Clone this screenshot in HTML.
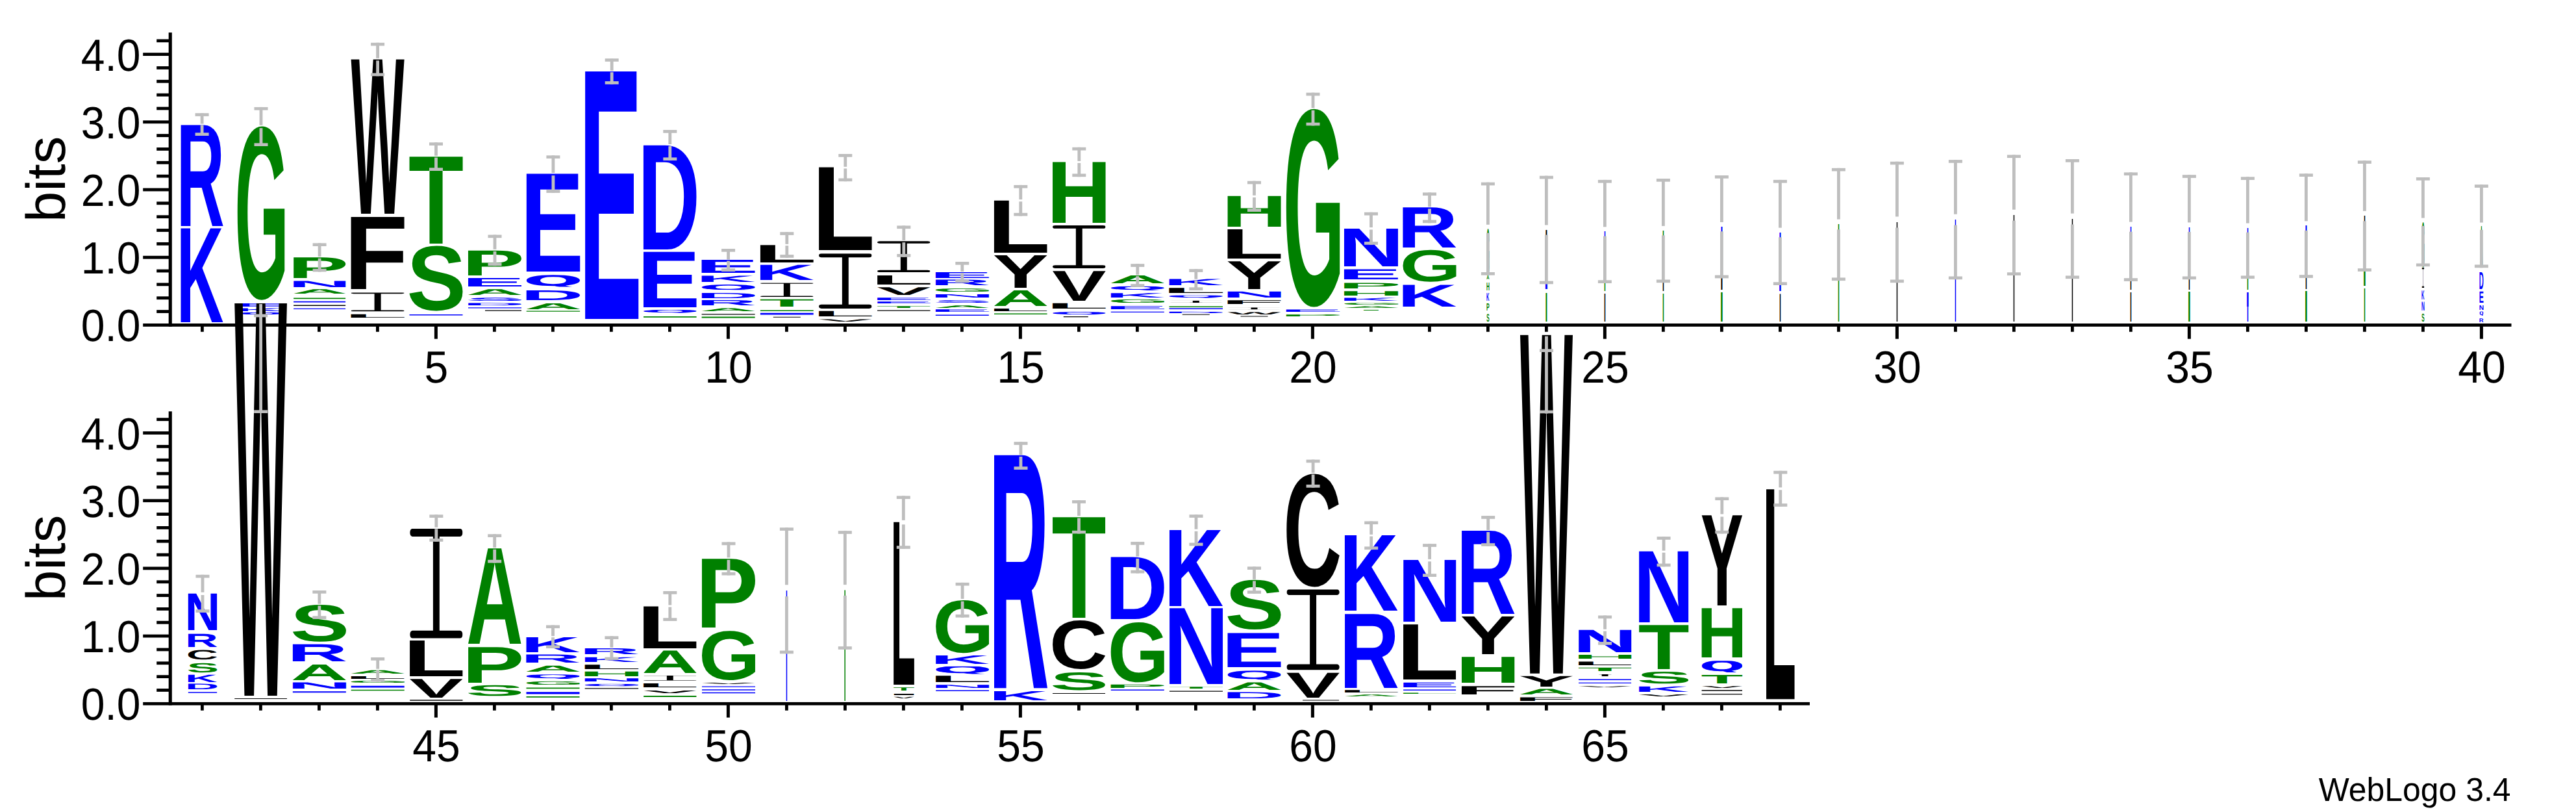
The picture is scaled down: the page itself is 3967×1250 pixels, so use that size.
<!DOCTYPE html>
<html><head><meta charset="utf-8"><title>WebLogo</title>
<style>
html,body{margin:0;padding:0;background:#fff;}
svg{display:block;}
text{text-rendering:geometricPrecision;}
.sb{font-family:"Liberation Sans",sans-serif;font-weight:bold;font-size:100px;}
.mr{font-family:"Liberation Mono",monospace;font-weight:normal;font-size:100px;}
.db{font-family:"DejaVu Sans",sans-serif;font-weight:bold;font-size:100px;}
.mb{font-family:"Liberation Mono",monospace;font-weight:bold;font-size:100px;}
.lab{font-family:"Liberation Sans",sans-serif;font-size:69.5px;fill:#000;}
.bits{font-family:"Liberation Sans",sans-serif;font-size:85px;fill:#000;}
.foot{font-family:"Liberation Sans",sans-serif;font-size:51px;fill:#000;}
</style></head><body>
<svg width="3967" height="1250" viewBox="0 0 3967 1250">
<rect x="0" y="0" width="3967" height="1250" fill="#fff"/>
<defs><clipPath id="ci" clipPathUnits="userSpaceOnUse"><rect x="9.863" y="-65.869" width="40.186" height="4.743" rx="2.009" ry="2.371"/><rect x="27.505" y="-65.869" width="4.903" height="65.869"/><rect x="9.863" y="-4.743" width="40.186" height="4.743" rx="2.009" ry="2.371"/></clipPath></defs>
<rect x="259.70" y="50.10" width="5.10" height="452.70" fill="#000"/>
<rect x="220.20" y="498.00" width="3647.30" height="4.80" fill="#000"/>
<text class="lab" transform="translate(216.6 525.4) scale(0.95 1)" text-anchor="end">0.0</text>
<rect x="241.20" y="477.16" width="19.00" height="4.80" fill="#000"/>
<rect x="241.20" y="456.32" width="19.00" height="4.80" fill="#000"/>
<rect x="241.20" y="435.48" width="19.00" height="4.80" fill="#000"/>
<rect x="241.20" y="414.64" width="19.00" height="4.80" fill="#000"/>
<rect x="220.20" y="393.80" width="40.00" height="4.80" fill="#000"/>
<text class="lab" transform="translate(216.6 421.2) scale(0.95 1)" text-anchor="end">1.0</text>
<rect x="241.20" y="372.96" width="19.00" height="4.80" fill="#000"/>
<rect x="241.20" y="352.12" width="19.00" height="4.80" fill="#000"/>
<rect x="241.20" y="331.28" width="19.00" height="4.80" fill="#000"/>
<rect x="241.20" y="310.44" width="19.00" height="4.80" fill="#000"/>
<rect x="220.20" y="289.60" width="40.00" height="4.80" fill="#000"/>
<text class="lab" transform="translate(216.6 317.0) scale(0.95 1)" text-anchor="end">2.0</text>
<rect x="241.20" y="268.76" width="19.00" height="4.80" fill="#000"/>
<rect x="241.20" y="247.92" width="19.00" height="4.80" fill="#000"/>
<rect x="241.20" y="227.08" width="19.00" height="4.80" fill="#000"/>
<rect x="241.20" y="206.24" width="19.00" height="4.80" fill="#000"/>
<rect x="220.20" y="185.40" width="40.00" height="4.80" fill="#000"/>
<text class="lab" transform="translate(216.6 212.8) scale(0.95 1)" text-anchor="end">3.0</text>
<rect x="241.20" y="164.56" width="19.00" height="4.80" fill="#000"/>
<rect x="241.20" y="143.72" width="19.00" height="4.80" fill="#000"/>
<rect x="241.20" y="122.88" width="19.00" height="4.80" fill="#000"/>
<rect x="241.20" y="102.04" width="19.00" height="4.80" fill="#000"/>
<rect x="220.20" y="81.20" width="40.00" height="4.80" fill="#000"/>
<text class="lab" transform="translate(216.6 108.6) scale(0.95 1)" text-anchor="end">4.0</text>
<rect x="241.20" y="60.36" width="19.00" height="4.80" fill="#000"/>
<rect x="309.00" y="500.40" width="4.80" height="10.40" fill="#000"/>
<rect x="399.00" y="500.40" width="4.80" height="10.40" fill="#000"/>
<rect x="489.00" y="500.40" width="4.80" height="10.40" fill="#000"/>
<rect x="579.00" y="500.40" width="4.80" height="10.40" fill="#000"/>
<rect x="668.90" y="500.40" width="5.00" height="21.30" fill="#000"/>
<text class="lab" transform="translate(671.9 588.6) scale(0.95 1)" text-anchor="middle">5</text>
<rect x="759.00" y="500.40" width="4.80" height="10.40" fill="#000"/>
<rect x="849.00" y="500.40" width="4.80" height="10.40" fill="#000"/>
<rect x="939.00" y="500.40" width="4.80" height="10.40" fill="#000"/>
<rect x="1029.00" y="500.40" width="4.80" height="10.40" fill="#000"/>
<rect x="1118.90" y="500.40" width="5.00" height="21.30" fill="#000"/>
<text class="lab" transform="translate(1121.9 588.6) scale(0.95 1)" text-anchor="middle">10</text>
<rect x="1209.00" y="500.40" width="4.80" height="10.40" fill="#000"/>
<rect x="1299.00" y="500.40" width="4.80" height="10.40" fill="#000"/>
<rect x="1389.00" y="500.40" width="4.80" height="10.40" fill="#000"/>
<rect x="1479.00" y="500.40" width="4.80" height="10.40" fill="#000"/>
<rect x="1568.90" y="500.40" width="5.00" height="21.30" fill="#000"/>
<text class="lab" transform="translate(1571.9 588.6) scale(0.95 1)" text-anchor="middle">15</text>
<rect x="1659.00" y="500.40" width="4.80" height="10.40" fill="#000"/>
<rect x="1749.00" y="500.40" width="4.80" height="10.40" fill="#000"/>
<rect x="1839.00" y="500.40" width="4.80" height="10.40" fill="#000"/>
<rect x="1929.00" y="500.40" width="4.80" height="10.40" fill="#000"/>
<rect x="2018.90" y="500.40" width="5.00" height="21.30" fill="#000"/>
<text class="lab" transform="translate(2021.9 588.6) scale(0.95 1)" text-anchor="middle">20</text>
<rect x="2109.00" y="500.40" width="4.80" height="10.40" fill="#000"/>
<rect x="2199.00" y="500.40" width="4.80" height="10.40" fill="#000"/>
<rect x="2289.00" y="500.40" width="4.80" height="10.40" fill="#000"/>
<rect x="2379.00" y="500.40" width="4.80" height="10.40" fill="#000"/>
<rect x="2468.90" y="500.40" width="5.00" height="21.30" fill="#000"/>
<text class="lab" transform="translate(2471.9 588.6) scale(0.95 1)" text-anchor="middle">25</text>
<rect x="2559.00" y="500.40" width="4.80" height="10.40" fill="#000"/>
<rect x="2649.00" y="500.40" width="4.80" height="10.40" fill="#000"/>
<rect x="2739.00" y="500.40" width="4.80" height="10.40" fill="#000"/>
<rect x="2829.00" y="500.40" width="4.80" height="10.40" fill="#000"/>
<rect x="2918.90" y="500.40" width="5.00" height="21.30" fill="#000"/>
<text class="lab" transform="translate(2921.9 588.6) scale(0.95 1)" text-anchor="middle">30</text>
<rect x="3009.00" y="500.40" width="4.80" height="10.40" fill="#000"/>
<rect x="3099.00" y="500.40" width="4.80" height="10.40" fill="#000"/>
<rect x="3189.00" y="500.40" width="4.80" height="10.40" fill="#000"/>
<rect x="3279.00" y="500.40" width="4.80" height="10.40" fill="#000"/>
<rect x="3368.90" y="500.40" width="5.00" height="21.30" fill="#000"/>
<text class="lab" transform="translate(3371.9 588.6) scale(0.95 1)" text-anchor="middle">35</text>
<rect x="3459.00" y="500.40" width="4.80" height="10.40" fill="#000"/>
<rect x="3549.00" y="500.40" width="4.80" height="10.40" fill="#000"/>
<rect x="3639.00" y="500.40" width="4.80" height="10.40" fill="#000"/>
<rect x="3729.00" y="500.40" width="4.80" height="10.40" fill="#000"/>
<rect x="3818.90" y="500.40" width="5.00" height="21.30" fill="#000"/>
<text class="lab" transform="translate(3821.9 588.6) scale(0.95 1)" text-anchor="middle">40</text>
<text class="bits" transform="translate(99.6 275.9) rotate(-90)" text-anchor="middle">bits</text>
<text class="sb" fill="#0000ff" transform="matrix(1.0240 0 0 2.2602 271.75 347.50)">R</text>
<text class="sb" fill="#0000ff" transform="matrix(1.0062 0 0 2.1003 271.87 495.50)">K</text>
<text class="sb" fill="#008000" transform="matrix(1.0744 0 0 3.7740 361.34 458.11)">G</text>
<text class="sb" fill="#0000ff" transform="matrix(1.2923 0 0 0.0727 357.11 472.00)">E</text>
<text class="sb" fill="#0000ff" transform="matrix(1.1223 0 0 0.0654 358.24 478.50)">K</text>
<svg x="365.75" y="480.50" width="72.50" height="3.50" overflow="hidden"><text class="db" fill="#0000ff" transform="matrix(0.9667 0 0 0.0429 -4.81 3.19)">Q</text></svg>
<text class="sb" fill="#008000" transform="matrix(1.4136 0 0 0.4608 442.64 428.30)">P</text>
<text class="sb" fill="#0000ff" transform="matrix(1.3608 0 0 0.1366 443.00 441.70)">N</text>
<text class="sb" fill="#008000" transform="matrix(1.1924 0 0 0.0974 449.13 452.40)">A</text>
<text class="sb" fill="#008000" transform="matrix(5.5539 0 0 0.0262 414.95 460.20)">I</text>
<text class="sb" fill="#0000ff" transform="matrix(5.5539 0 0 0.0276 414.95 465.60)">I</text>
<text class="sb" fill="#000000" transform="matrix(5.5539 0 0 0.0203 414.95 471.00)">I</text>
<text class="sb" fill="#0000ff" transform="matrix(5.5539 0 0 0.0189 414.95 476.00)">I</text>
<text class="sb" fill="#000000" transform="matrix(0.8706 0 0 3.4521 540.51 329.00)">W</text>
<text class="sb" fill="#000000" transform="matrix(1.6163 0 0 1.6134 529.79 445.00)">F</text>
<text class="mr" fill="#000000" clip-path="url(#ci)" transform="matrix(2.0405 0 0 0.4494 520.47 479.60)">I</text>
<text class="sb" fill="#000000" transform="matrix(1.5979 0 0 0.0785 529.91 488.70)">L</text>
<text class="sb" fill="#008000" transform="matrix(1.3925 0 0 1.9448 628.94 374.50)">T</text>
<text class="sb" fill="#008000" transform="matrix(1.3687 0 0 1.4124 626.56 477.22)">S</text>
<text class="sb" fill="#0000ff" transform="matrix(5.6927 0 0 0.0218 592.42 485.50)">I</text>
<text class="sb" fill="#008000" transform="matrix(1.4490 0 0 0.5552 711.31 423.50)">P</text>
<text class="sb" fill="#0000ff" transform="matrix(1.4616 0 0 0.1890 711.22 441.00)">E</text>
<text class="sb" fill="#008000" transform="matrix(1.2222 0 0 0.1279 717.96 453.80)">A</text>
<text class="sb" fill="#0000ff" transform="matrix(1.3687 0 0 0.0664 717.06 462.94)">S</text>
<text class="sb" fill="#0000ff" transform="matrix(1.3371 0 0 0.0523 712.06 470.00)">D</text>
<text class="sb" fill="#0000ff" transform="matrix(5.6927 0 0 0.0174 682.92 474.40)">I</text>
<text class="sb" fill="#000000" transform="matrix(3.8877 0 0 0.0174 720.99 478.70)">I</text>
<text class="sb" fill="#0000ff" transform="matrix(1.4687 0 0 2.1875 800.88 418.10)">E</text>
<svg x="810.70" y="423.00" width="82.40" height="18.40" overflow="hidden"><text class="db" fill="#0000ff" transform="matrix(1.0987 0 0 0.2256 -5.47 16.75)">Q</text></svg>
<text class="sb" fill="#0000ff" transform="matrix(1.3436 0 0 0.2180 801.71 461.80)">D</text>
<text class="sb" fill="#008000" transform="matrix(1.2282 0 0 0.1323 807.64 475.50)">A</text>
<text class="sb" fill="#008000" transform="matrix(5.7205 0 0 0.0189 772.43 479.80)">I</text>
<text class="sb" fill="#0000ff" transform="matrix(1.4634 0 0 5.5379 891.36 491.00)">E</text>
<text class="sb" fill="#0000ff" transform="matrix(1.3305 0 0 2.3300 982.10 383.70)">D</text>
<text class="sb" fill="#0000ff" transform="matrix(1.4545 0 0 1.2398 981.27 473.10)">E</text>
<svg x="991.00" y="477.10" width="81.60" height="4.60" overflow="hidden"><text class="db" fill="#0000ff" transform="matrix(1.0880 0 0 0.0564 -5.42 4.19)">Q</text></svg>
<text class="sb" fill="#008000" transform="matrix(5.6650 0 0 0.0247 953.10 488.70)">I</text>
<text class="sb" fill="#0000ff" transform="matrix(1.4616 0 0 0.2922 1070.82 419.80)">E</text>
<text class="sb" fill="#0000ff" transform="matrix(1.2694 0 0 0.1395 1072.11 433.60)">K</text>
<svg x="1080.60" y="437.60" width="82.00" height="8.70" overflow="hidden"><text class="db" fill="#0000ff" transform="matrix(1.0933 0 0 0.1067 -5.45 7.92)">Q</text></svg>
<text class="sb" fill="#0000ff" transform="matrix(1.3371 0 0 0.1163 1071.66 458.80)">D</text>
<text class="sb" fill="#0000ff" transform="matrix(1.2918 0 0 0.1177 1071.96 470.00)">R</text>
<text class="sb" fill="#008000" transform="matrix(1.2222 0 0 0.0640 1077.56 479.30)">A</text>
<text class="sb" fill="#000000" transform="matrix(5.6927 0 0 0.0189 1042.52 484.60)">I</text>
<text class="sb" fill="#008000" transform="matrix(5.6927 0 0 0.0262 1042.52 489.40)">I</text>
<text class="sb" fill="#000000" transform="matrix(1.5940 0 0 0.3895 1160.24 404.00)">L</text>
<text class="sb" fill="#0000ff" transform="matrix(1.2663 0 0 0.3401 1162.43 431.40)">K</text>
<text class="mr" fill="#000000" clip-path="url(#ci)" transform="matrix(2.0356 0 0 0.3310 1150.82 457.00)">I</text>
<text class="sb" fill="#008000" transform="matrix(1.3891 0 0 0.1628 1169.34 472.00)">T</text>
<text class="sb" fill="#008000" transform="matrix(5.6789 0 0 0.0218 1132.91 479.00)">I</text>
<text class="sb" fill="#0000ff" transform="matrix(5.6789 0 0 0.0378 1132.91 484.40)">I</text>
<text class="sb" fill="#000000" transform="matrix(2.9158 0 0 0.0160 1171.29 488.80)">I</text>
<text class="sb" fill="#000000" transform="matrix(1.5881 0 0 1.8547 1250.43 384.60)">L</text>
<text class="mr" fill="#000000" clip-path="url(#ci)" transform="matrix(2.0281 0 0 1.2859 1241.05 474.90)">I</text>
<text class="sb" fill="#000000" transform="matrix(1.5881 0 0 0.1192 1250.43 487.10)">L</text>
<text class="sb" fill="#000000" transform="matrix(1.2475 0 0 0.0494 1260.20 495.00)">V</text>
<text class="mr" fill="#000000" clip-path="url(#ci)" transform="matrix(2.0281 0 0 0.7272 1331.05 419.10)">I</text>
<text class="sb" fill="#000000" transform="matrix(1.5881 0 0 0.2035 1340.43 438.00)">L</text>
<text class="sb" fill="#000000" transform="matrix(1.2475 0 0 0.1715 1350.20 453.70)">V</text>
<text class="sb" fill="#0000ff" transform="matrix(1.4527 0 0 0.0552 1341.33 461.50)">E</text>
<text class="sb" fill="#0000ff" transform="matrix(1.4527 0 0 0.0407 1341.33 467.00)">E</text>
<text class="sb" fill="#008000" transform="matrix(1.3840 0 0 0.0407 1349.50 473.70)">T</text>
<text class="sb" fill="#000000" transform="matrix(5.6580 0 0 0.0174 1313.20 478.80)">I</text>
<text class="sb" fill="#0000ff" transform="matrix(1.4616 0 0 0.1294 1431.02 428.00)">E</text>
<text class="sb" fill="#0000ff" transform="matrix(1.2918 0 0 0.1235 1432.16 438.80)">R</text>
<text class="sb" fill="#008000" transform="matrix(1.2152 0 0 0.0720 1435.82 449.13)">G</text>
<text class="sb" fill="#0000ff" transform="matrix(1.3948 0 0 0.0741 1431.47 458.10)">N</text>
<text class="sb" fill="#0000ff" transform="matrix(1.3687 0 0 0.0537 1436.86 466.35)">S</text>
<text class="sb" fill="#008000" transform="matrix(1.2222 0 0 0.0538 1437.76 473.70)">A</text>
<text class="sb" fill="#0000ff" transform="matrix(1.4616 0 0 0.0552 1431.02 480.40)">E</text>
<text class="sb" fill="#0000ff" transform="matrix(5.6927 0 0 0.0203 1402.72 486.00)">I</text>
<text class="sb" fill="#000000" transform="matrix(1.5901 0 0 1.1672 1520.36 389.00)">L</text>
<text class="sb" fill="#000000" transform="matrix(1.2875 0 0 0.7268 1528.80 443.00)">Y</text>
<text class="sb" fill="#008000" transform="matrix(1.2163 0 0 0.3474 1527.97 470.90)">A</text>
<text class="sb" fill="#000000" transform="matrix(1.5901 0 0 0.0581 1520.36 478.90)">L</text>
<text class="sb" fill="#008000" transform="matrix(5.6650 0 0 0.0218 1493.10 484.00)">I</text>
<text class="sb" fill="#008000" transform="matrix(1.3863 0 0 1.3590 1611.78 342.60)">H</text>
<text class="mr" fill="#000000" clip-path="url(#ci)" transform="matrix(2.0281 0 0 1.0020 1601.05 413.00)">I</text>
<text class="sb" fill="#000000" transform="matrix(1.2475 0 0 0.6672 1620.20 463.30)">V</text>
<text class="sb" fill="#000000" transform="matrix(1.5881 0 0 0.1206 1610.43 475.30)">L</text>
<svg x="1621.05" y="479.80" width="81.50" height="4.40" overflow="hidden"><text class="db" fill="#0000ff" transform="matrix(1.0867 0 0 0.0540 -5.41 4.00)">Q</text></svg>
<text class="sb" fill="#000000" transform="matrix(2.6381 0 0 0.0174 1620.15 488.20)">I</text>
<text class="sb" fill="#008000" transform="matrix(1.2222 0 0 0.1730 1707.76 435.90)">A</text>
<svg x="1710.80" y="440.80" width="82.00" height="6.20" overflow="hidden"><text class="db" fill="#0000ff" transform="matrix(1.0933 0 0 0.0760 -5.45 5.64)">Q</text></svg>
<text class="sb" fill="#0000ff" transform="matrix(1.2694 0 0 0.0974 1702.31 457.50)">K</text>
<text class="sb" fill="#008000" transform="matrix(1.2152 0 0 0.0763 1705.82 466.33)">G</text>
<text class="sb" fill="#0000ff" transform="matrix(1.4616 0 0 0.0669 1701.02 475.50)">E</text>
<text class="sb" fill="#0000ff" transform="matrix(5.6927 0 0 0.0189 1672.72 481.00)">I</text>
<text class="sb" fill="#0000ff" transform="matrix(1.2771 0 0 0.1366 1792.01 439.20)">K</text>
<text class="sb" fill="#000000" transform="matrix(1.6076 0 0 0.1134 1789.80 450.80)">L</text>
<svg x="1800.55" y="454.40" width="82.50" height="4.40" overflow="hidden"><text class="db" fill="#0000ff" transform="matrix(1.1000 0 0 0.0540 -5.48 4.00)">Q</text></svg>
<text class="mr" fill="#000000" clip-path="url(#ci)" transform="matrix(2.0530 0 0 0.0516 1780.30 466.00)">I</text>
<text class="sb" fill="#008000" transform="matrix(5.7275 0 0 0.0218 1762.24 473.00)">I</text>
<text class="sb" fill="#0000ff" transform="matrix(5.7275 0 0 0.0203 1762.24 476.00)">I</text>
<text class="sb" fill="#0000ff" transform="matrix(1.3452 0 0 0.0320 1791.55 482.00)">D</text>
<text class="sb" fill="#000000" transform="matrix(2.9158 0 0 0.0145 1801.29 484.70)">I</text>
<text class="sb" fill="#008000" transform="matrix(1.3948 0 0 0.6861 1881.17 349.00)">H</text>
<text class="sb" fill="#000000" transform="matrix(1.5979 0 0 0.6555 1879.81 398.00)">L</text>
<text class="sb" fill="#000000" transform="matrix(1.2938 0 0 0.6221 1888.29 444.80)">Y</text>
<text class="sb" fill="#0000ff" transform="matrix(1.3948 0 0 0.1352 1881.17 458.10)">N</text>
<text class="sb" fill="#000000" transform="matrix(1.6163 0 0 0.0843 1879.69 467.70)">F</text>
<text class="mr" fill="#000000" clip-path="url(#ci)" transform="matrix(2.0405 0 0 0.0547 1870.37 476.60)">I</text>
<text class="sb" fill="#000000" transform="matrix(0.8706 0 0 0.0494 1890.41 483.80)">W</text>
<text class="sb" fill="#000000" transform="matrix(2.9158 0 0 0.0145 1890.99 487.60)">I</text>
<text class="sb" fill="#008000" transform="matrix(1.2211 0 0 4.3064 1975.79 468.39)">G</text>
<text class="sb" fill="#0000ff" transform="matrix(1.4687 0 0 0.0494 1970.98 480.40)">E</text>
<text class="sb" fill="#008000" transform="matrix(1.4560 0 0 0.0422 1971.06 486.70)">P</text>
<text class="sb" fill="#0000ff" transform="matrix(1.4118 0 0 0.8430 2060.56 409.80)">N</text>
<text class="sb" fill="#0000ff" transform="matrix(1.4794 0 0 0.2267 2060.10 429.80)">E</text>
<text class="sb" fill="#008000" transform="matrix(1.4666 0 0 0.1235 2060.19 443.70)">P</text>
<text class="sb" fill="#008000" transform="matrix(1.4118 0 0 0.0974 2060.56 454.80)">H</text>
<text class="sb" fill="#0000ff" transform="matrix(1.2848 0 0 0.0654 2061.41 463.30)">K</text>
<text class="sb" fill="#008000" transform="matrix(1.2300 0 0 0.0410 2064.96 469.26)">G</text>
<text class="sb" fill="#008000" transform="matrix(1.2371 0 0 0.0349 2066.92 474.40)">A</text>
<text class="sb" fill="#008000" transform="matrix(1.5273 0 0 0.0145 2090.28 478.00)">I</text>
<text class="sb" fill="#0000ff" transform="matrix(1.2918 0 0 0.8968 2151.86 381.20)">R</text>
<text class="sb" fill="#008000" transform="matrix(1.2152 0 0 0.6921 2155.52 432.92)">G</text>
<text class="sb" fill="#0000ff" transform="matrix(1.2694 0 0 0.4855 2152.01 472.20)">K</text>
<text class="sb" fill="#008000" transform="matrix(0.0593 0 0 1.0169 2289.16 423.01)">G</text>
<text class="sb" fill="#008000" transform="matrix(0.0596 0 0 0.0872 2289.25 430.00)">A</text>
<text class="sb" fill="#008000" transform="matrix(0.0680 0 0 0.1744 2288.94 447.00)">H</text>
<text class="sb" fill="#0000ff" transform="matrix(0.0619 0 0 0.1744 2288.99 463.00)">K</text>
<text class="sb" fill="#008000" transform="matrix(0.0707 0 0 0.1599 2288.93 478.00)">P</text>
<text class="sb" fill="#008000" transform="matrix(0.0668 0 0 0.1695 2289.21 494.83)">S</text>
<text class="sb" fill="#000000" transform="matrix(0.1388 0 0 1.2064 2379.47 437.00)">I</text>
<text class="sb" fill="#0000ff" transform="matrix(0.2083 0 0 0.1163 2378.51 445.00)">I</text>
<text class="sb" fill="#008000" transform="matrix(0.1388 0 0 0.6395 2379.47 495.00)">I</text>
<text class="sb" fill="#0000ff" transform="matrix(0.1041 0 0 1.1628 2469.95 436.00)">I</text>
<text class="sb" fill="#008000" transform="matrix(0.1041 0 0 0.1744 2469.95 448.00)">I</text>
<text class="sb" fill="#000000" transform="matrix(0.1041 0 0 0.6250 2469.95 495.00)">I</text>
<text class="sb" fill="#008000" transform="matrix(0.1041 0 0 1.1628 2559.95 435.00)">I</text>
<text class="sb" fill="#000000" transform="matrix(0.1041 0 0 0.1890 2559.95 448.00)">I</text>
<text class="sb" fill="#008000" transform="matrix(0.1041 0 0 0.6250 2559.95 495.00)">I</text>
<text class="sb" fill="#0000ff" transform="matrix(0.1388 0 0 1.1483 2649.47 428.00)">I</text>
<text class="sb" fill="#000000" transform="matrix(0.1388 0 0 0.2616 2649.47 446.00)">I</text>
<text class="sb" fill="#008000" transform="matrix(0.1736 0 0 0.6541 2648.99 495.00)">I</text>
<text class="sb" fill="#0000ff" transform="matrix(0.1388 0 0 1.1773 2739.47 439.00)">I</text>
<text class="sb" fill="#0000ff" transform="matrix(0.1736 0 0 0.1308 2738.99 448.00)">I</text>
<text class="sb" fill="#000000" transform="matrix(0.1041 0 0 0.6177 2739.95 495.00)">I</text>
<text class="sb" fill="#008000" transform="matrix(0.1041 0 0 2.1803 2829.95 495.00)">I</text>
<text class="sb" fill="#000000" transform="matrix(0.1041 0 0 2.2239 2919.95 495.00)">I</text>
<text class="sb" fill="#0000ff" transform="matrix(0.1041 0 0 2.2820 3009.95 495.00)">I</text>
<text class="sb" fill="#000000" transform="matrix(0.1041 0 0 2.3838 3099.95 495.00)">I</text>
<text class="sb" fill="#000000" transform="matrix(0.1041 0 0 2.2966 3189.95 495.00)">I</text>
<text class="sb" fill="#0000ff" transform="matrix(0.1041 0 0 1.2210 3279.95 433.00)">I</text>
<text class="sb" fill="#000000" transform="matrix(0.1041 0 0 0.1890 3279.95 446.00)">I</text>
<text class="sb" fill="#000000" transform="matrix(0.1041 0 0 0.6541 3279.95 495.00)">I</text>
<text class="sb" fill="#0000ff" transform="matrix(0.1041 0 0 1.1628 3369.95 430.00)">I</text>
<text class="sb" fill="#000000" transform="matrix(0.1041 0 0 0.2326 3369.95 446.00)">I</text>
<text class="sb" fill="#008000" transform="matrix(0.1736 0 0 0.6686 3368.99 495.00)">I</text>
<text class="sb" fill="#0000ff" transform="matrix(0.1041 0 0 1.1337 3459.95 429.00)">I</text>
<text class="sb" fill="#008000" transform="matrix(0.1041 0 0 0.2471 3459.95 446.00)">I</text>
<text class="sb" fill="#0000ff" transform="matrix(0.1736 0 0 0.3198 3458.99 472.00)">I</text>
<text class="sb" fill="#0000ff" transform="matrix(0.1041 0 0 0.3343 3459.95 495.00)">I</text>
<text class="sb" fill="#0000ff" transform="matrix(0.1388 0 0 1.1773 3549.47 428.00)">I</text>
<text class="sb" fill="#000000" transform="matrix(0.1041 0 0 0.2471 3549.95 445.00)">I</text>
<text class="sb" fill="#008000" transform="matrix(0.1736 0 0 0.6832 3548.99 495.00)">I</text>
<text class="sb" fill="#000000" transform="matrix(0.1041 0 0 1.2500 3639.95 418.00)">I</text>
<text class="sb" fill="#008000" transform="matrix(0.1736 0 0 0.3198 3638.99 440.00)">I</text>
<text class="sb" fill="#008000" transform="matrix(0.1041 0 0 0.7413 3639.95 495.00)">I</text>
<text class="sb" fill="#008000" transform="matrix(0.0593 0 0 0.9887 3729.16 411.03)">G</text>
<text class="mr" fill="#000000" clip-path="url(#ci)" transform="matrix(0.0995 0 0 0.4706 3728.42 443.00)">I</text>
<text class="sb" fill="#0000ff" transform="matrix(0.0619 0 0 0.2006 3728.99 461.30)">K</text>
<text class="sb" fill="#0000ff" transform="matrix(0.0680 0 0 0.1962 3728.94 478.30)">N</text>
<text class="sb" fill="#008000" transform="matrix(0.0668 0 0 0.1766 3729.21 494.83)">S</text>
<text class="sb" fill="#008000" transform="matrix(0.0596 0 0 0.9302 3819.25 412.00)">A</text>
<text class="sb" fill="#0000ff" transform="matrix(0.0978 0 0 0.3794 3817.75 444.80)">D</text>
<text class="sb" fill="#0000ff" transform="matrix(0.1069 0 0 0.2515 3817.68 466.00)">E</text>
<text class="sb" fill="#0000ff" transform="matrix(0.1021 0 0 0.1003 3817.72 476.70)">N</text>
<svg x="3818.40" y="479.40" width="6.00" height="6.60" overflow="hidden"><text class="db" fill="#0000ff" transform="matrix(0.0800 0 0 0.0809 -0.40 6.01)">Q</text></svg>
<text class="sb" fill="#0000ff" transform="matrix(0.0945 0 0 0.0829 3817.77 495.50)">R</text>
<rect x="300.60" y="174.20" width="21.00" height="4.70" fill="#bebebe"/>
<rect x="300.60" y="204.30" width="21.00" height="4.70" fill="#bebebe"/>
<rect x="308.70" y="174.20" width="4.80" height="16.40" fill="#bebebe"/>
<rect x="308.70" y="192.60" width="4.80" height="16.40" fill="#bebebe"/>
<rect x="391.50" y="164.90" width="21.00" height="4.70" fill="#bebebe"/>
<rect x="391.50" y="220.30" width="21.00" height="4.70" fill="#bebebe"/>
<rect x="399.60" y="164.90" width="4.80" height="27.84" fill="#bebebe"/>
<rect x="399.60" y="197.16" width="4.80" height="27.84" fill="#bebebe"/>
<rect x="481.60" y="374.30" width="21.00" height="4.70" fill="#bebebe"/>
<rect x="481.60" y="413.70" width="21.00" height="4.70" fill="#bebebe"/>
<rect x="489.70" y="374.30" width="4.80" height="20.65" fill="#bebebe"/>
<rect x="489.70" y="397.75" width="4.80" height="20.64" fill="#bebebe"/>
<rect x="571.10" y="65.80" width="21.00" height="4.70" fill="#bebebe"/>
<rect x="571.10" y="112.50" width="21.00" height="4.70" fill="#bebebe"/>
<rect x="579.20" y="65.80" width="4.80" height="23.93" fill="#bebebe"/>
<rect x="579.20" y="93.27" width="4.80" height="23.93" fill="#bebebe"/>
<rect x="661.00" y="219.30" width="21.00" height="4.70" fill="#bebebe"/>
<rect x="661.00" y="258.30" width="21.00" height="4.70" fill="#bebebe"/>
<rect x="669.10" y="219.30" width="4.80" height="20.47" fill="#bebebe"/>
<rect x="669.10" y="242.53" width="4.80" height="20.47" fill="#bebebe"/>
<rect x="751.50" y="361.50" width="21.00" height="4.70" fill="#bebebe"/>
<rect x="751.50" y="404.50" width="21.00" height="4.70" fill="#bebebe"/>
<rect x="759.60" y="361.50" width="4.80" height="22.27" fill="#bebebe"/>
<rect x="759.60" y="386.94" width="4.80" height="22.26" fill="#bebebe"/>
<rect x="841.40" y="239.30" width="21.00" height="4.70" fill="#bebebe"/>
<rect x="841.40" y="292.20" width="21.00" height="4.70" fill="#bebebe"/>
<rect x="849.50" y="239.30" width="4.80" height="26.72" fill="#bebebe"/>
<rect x="849.50" y="270.18" width="4.80" height="26.72" fill="#bebebe"/>
<rect x="931.70" y="90.10" width="21.00" height="4.70" fill="#bebebe"/>
<rect x="931.70" y="125.10" width="21.00" height="4.70" fill="#bebebe"/>
<rect x="939.80" y="90.10" width="4.80" height="18.67" fill="#bebebe"/>
<rect x="939.80" y="111.14" width="4.80" height="18.67" fill="#bebebe"/>
<rect x="1021.30" y="200.00" width="21.00" height="4.70" fill="#bebebe"/>
<rect x="1021.30" y="242.40" width="21.00" height="4.70" fill="#bebebe"/>
<rect x="1029.40" y="200.00" width="4.80" height="22.00" fill="#bebebe"/>
<rect x="1029.40" y="225.11" width="4.80" height="21.99" fill="#bebebe"/>
<rect x="1111.10" y="383.00" width="21.00" height="4.70" fill="#bebebe"/>
<rect x="1111.10" y="413.30" width="21.00" height="4.70" fill="#bebebe"/>
<rect x="1119.20" y="383.00" width="4.80" height="16.50" fill="#bebebe"/>
<rect x="1119.20" y="401.50" width="4.80" height="16.50" fill="#bebebe"/>
<rect x="1201.30" y="357.20" width="21.00" height="4.70" fill="#bebebe"/>
<rect x="1201.30" y="392.10" width="21.00" height="4.70" fill="#bebebe"/>
<rect x="1209.40" y="357.20" width="4.80" height="18.62" fill="#bebebe"/>
<rect x="1209.40" y="378.18" width="4.80" height="18.62" fill="#bebebe"/>
<rect x="1291.30" y="237.00" width="21.00" height="4.70" fill="#bebebe"/>
<rect x="1291.30" y="274.50" width="21.00" height="4.70" fill="#bebebe"/>
<rect x="1299.40" y="237.00" width="4.80" height="19.79" fill="#bebebe"/>
<rect x="1299.40" y="259.41" width="4.80" height="19.79" fill="#bebebe"/>
<rect x="1381.30" y="347.40" width="21.00" height="4.70" fill="#bebebe"/>
<rect x="1381.30" y="391.00" width="21.00" height="4.70" fill="#bebebe"/>
<rect x="1389.40" y="347.40" width="4.80" height="22.53" fill="#bebebe"/>
<rect x="1389.40" y="373.16" width="4.80" height="22.54" fill="#bebebe"/>
<rect x="1471.30" y="403.00" width="21.00" height="4.70" fill="#bebebe"/>
<rect x="1471.30" y="430.50" width="21.00" height="4.70" fill="#bebebe"/>
<rect x="1479.40" y="403.00" width="4.80" height="15.10" fill="#bebebe"/>
<rect x="1479.40" y="420.10" width="4.80" height="15.10" fill="#bebebe"/>
<rect x="1561.30" y="284.90" width="21.00" height="4.70" fill="#bebebe"/>
<rect x="1561.30" y="327.80" width="21.00" height="4.70" fill="#bebebe"/>
<rect x="1569.40" y="284.90" width="4.80" height="22.22" fill="#bebebe"/>
<rect x="1569.40" y="310.28" width="4.80" height="22.22" fill="#bebebe"/>
<rect x="1651.30" y="226.80" width="21.00" height="4.70" fill="#bebebe"/>
<rect x="1651.30" y="267.50" width="21.00" height="4.70" fill="#bebebe"/>
<rect x="1659.40" y="226.80" width="4.80" height="21.23" fill="#bebebe"/>
<rect x="1659.40" y="250.97" width="4.80" height="21.23" fill="#bebebe"/>
<rect x="1741.30" y="406.20" width="21.00" height="4.70" fill="#bebebe"/>
<rect x="1741.30" y="437.20" width="21.00" height="4.70" fill="#bebebe"/>
<rect x="1749.40" y="406.20" width="4.80" height="16.85" fill="#bebebe"/>
<rect x="1749.40" y="425.05" width="4.80" height="16.85" fill="#bebebe"/>
<rect x="1831.30" y="414.20" width="21.00" height="4.70" fill="#bebebe"/>
<rect x="1831.30" y="442.30" width="21.00" height="4.70" fill="#bebebe"/>
<rect x="1839.40" y="414.20" width="4.80" height="15.40" fill="#bebebe"/>
<rect x="1839.40" y="431.60" width="4.80" height="15.40" fill="#bebebe"/>
<rect x="1921.00" y="278.70" width="21.00" height="4.70" fill="#bebebe"/>
<rect x="1921.00" y="321.30" width="21.00" height="4.70" fill="#bebebe"/>
<rect x="1929.10" y="278.70" width="4.80" height="22.09" fill="#bebebe"/>
<rect x="1929.10" y="303.92" width="4.80" height="22.08" fill="#bebebe"/>
<rect x="2011.50" y="142.70" width="21.00" height="4.70" fill="#bebebe"/>
<rect x="2011.50" y="188.70" width="21.00" height="4.70" fill="#bebebe"/>
<rect x="2019.60" y="142.70" width="4.80" height="23.62" fill="#bebebe"/>
<rect x="2019.60" y="169.79" width="4.80" height="23.61" fill="#bebebe"/>
<rect x="2101.00" y="326.80" width="21.00" height="4.70" fill="#bebebe"/>
<rect x="2101.00" y="372.10" width="21.00" height="4.70" fill="#bebebe"/>
<rect x="2109.10" y="326.80" width="4.80" height="23.30" fill="#bebebe"/>
<rect x="2109.10" y="353.50" width="4.80" height="23.30" fill="#bebebe"/>
<rect x="2191.00" y="296.40" width="21.00" height="4.70" fill="#bebebe"/>
<rect x="2191.00" y="338.60" width="21.00" height="4.70" fill="#bebebe"/>
<rect x="2199.10" y="296.40" width="4.80" height="21.91" fill="#bebebe"/>
<rect x="2199.10" y="321.40" width="4.80" height="21.90" fill="#bebebe"/>
<rect x="2280.90" y="280.70" width="21.00" height="4.70" fill="#bebebe"/>
<rect x="2280.90" y="419.00" width="21.00" height="4.70" fill="#bebebe"/>
<rect x="2289.00" y="280.70" width="4.80" height="65.15" fill="#bebebe"/>
<rect x="2289.00" y="358.55" width="4.80" height="65.15" fill="#bebebe"/>
<rect x="2370.90" y="270.70" width="21.00" height="4.70" fill="#bebebe"/>
<rect x="2370.90" y="432.60" width="21.00" height="4.70" fill="#bebebe"/>
<rect x="2379.00" y="270.70" width="4.80" height="75.77" fill="#bebebe"/>
<rect x="2379.00" y="361.53" width="4.80" height="75.77" fill="#bebebe"/>
<rect x="2460.90" y="276.90" width="21.00" height="4.70" fill="#bebebe"/>
<rect x="2460.90" y="431.30" width="21.00" height="4.70" fill="#bebebe"/>
<rect x="2469.00" y="276.90" width="4.80" height="72.39" fill="#bebebe"/>
<rect x="2469.00" y="363.61" width="4.80" height="72.39" fill="#bebebe"/>
<rect x="2550.90" y="275.00" width="21.00" height="4.70" fill="#bebebe"/>
<rect x="2550.90" y="430.50" width="21.00" height="4.70" fill="#bebebe"/>
<rect x="2559.00" y="275.00" width="4.80" height="72.89" fill="#bebebe"/>
<rect x="2559.00" y="362.31" width="4.80" height="72.89" fill="#bebebe"/>
<rect x="2640.90" y="270.00" width="21.00" height="4.70" fill="#bebebe"/>
<rect x="2640.90" y="423.60" width="21.00" height="4.70" fill="#bebebe"/>
<rect x="2649.00" y="270.00" width="4.80" height="72.03" fill="#bebebe"/>
<rect x="2649.00" y="356.26" width="4.80" height="72.04" fill="#bebebe"/>
<rect x="2730.90" y="276.90" width="21.00" height="4.70" fill="#bebebe"/>
<rect x="2730.90" y="434.30" width="21.00" height="4.70" fill="#bebebe"/>
<rect x="2739.00" y="276.90" width="4.80" height="73.75" fill="#bebebe"/>
<rect x="2739.00" y="365.25" width="4.80" height="73.75" fill="#bebebe"/>
<rect x="2820.90" y="258.80" width="21.00" height="4.70" fill="#bebebe"/>
<rect x="2820.90" y="427.40" width="21.00" height="4.70" fill="#bebebe"/>
<rect x="2829.00" y="258.80" width="4.80" height="78.79" fill="#bebebe"/>
<rect x="2829.00" y="353.32" width="4.80" height="78.78" fill="#bebebe"/>
<rect x="2910.90" y="248.80" width="21.00" height="4.70" fill="#bebebe"/>
<rect x="2910.90" y="430.50" width="21.00" height="4.70" fill="#bebebe"/>
<rect x="2919.00" y="248.80" width="4.80" height="84.68" fill="#bebebe"/>
<rect x="2919.00" y="350.52" width="4.80" height="84.68" fill="#bebebe"/>
<rect x="3000.90" y="246.10" width="21.00" height="4.70" fill="#bebebe"/>
<rect x="3000.90" y="425.50" width="21.00" height="4.70" fill="#bebebe"/>
<rect x="3009.00" y="246.10" width="4.80" height="83.65" fill="#bebebe"/>
<rect x="3009.00" y="346.55" width="4.80" height="83.65" fill="#bebebe"/>
<rect x="3090.90" y="238.40" width="21.00" height="4.70" fill="#bebebe"/>
<rect x="3090.90" y="419.30" width="21.00" height="4.70" fill="#bebebe"/>
<rect x="3099.00" y="238.40" width="4.80" height="84.32" fill="#bebebe"/>
<rect x="3099.00" y="339.68" width="4.80" height="84.32" fill="#bebebe"/>
<rect x="3180.90" y="245.00" width="21.00" height="4.70" fill="#bebebe"/>
<rect x="3180.90" y="424.40" width="21.00" height="4.70" fill="#bebebe"/>
<rect x="3189.00" y="245.00" width="4.80" height="83.64" fill="#bebebe"/>
<rect x="3189.00" y="345.46" width="4.80" height="83.64" fill="#bebebe"/>
<rect x="3270.90" y="265.40" width="21.00" height="4.70" fill="#bebebe"/>
<rect x="3270.90" y="428.20" width="21.00" height="4.70" fill="#bebebe"/>
<rect x="3279.00" y="265.40" width="4.80" height="76.18" fill="#bebebe"/>
<rect x="3279.00" y="356.72" width="4.80" height="76.18" fill="#bebebe"/>
<rect x="3360.90" y="269.20" width="21.00" height="4.70" fill="#bebebe"/>
<rect x="3360.90" y="425.50" width="21.00" height="4.70" fill="#bebebe"/>
<rect x="3369.00" y="269.20" width="4.80" height="73.25" fill="#bebebe"/>
<rect x="3369.00" y="356.95" width="4.80" height="73.25" fill="#bebebe"/>
<rect x="3450.90" y="272.30" width="21.00" height="4.70" fill="#bebebe"/>
<rect x="3450.90" y="424.40" width="21.00" height="4.70" fill="#bebebe"/>
<rect x="3459.00" y="272.30" width="4.80" height="71.36" fill="#bebebe"/>
<rect x="3459.00" y="357.74" width="4.80" height="71.36" fill="#bebebe"/>
<rect x="3540.90" y="267.30" width="21.00" height="4.70" fill="#bebebe"/>
<rect x="3540.90" y="423.20" width="21.00" height="4.70" fill="#bebebe"/>
<rect x="3549.00" y="267.30" width="4.80" height="73.07" fill="#bebebe"/>
<rect x="3549.00" y="354.83" width="4.80" height="73.07" fill="#bebebe"/>
<rect x="3630.90" y="247.30" width="21.00" height="4.70" fill="#bebebe"/>
<rect x="3630.90" y="413.20" width="21.00" height="4.70" fill="#bebebe"/>
<rect x="3639.00" y="247.30" width="4.80" height="77.57" fill="#bebebe"/>
<rect x="3639.00" y="340.33" width="4.80" height="77.57" fill="#bebebe"/>
<rect x="3720.90" y="273.00" width="21.00" height="4.70" fill="#bebebe"/>
<rect x="3720.90" y="405.50" width="21.00" height="4.70" fill="#bebebe"/>
<rect x="3729.00" y="273.00" width="4.80" height="62.54" fill="#bebebe"/>
<rect x="3729.00" y="347.66" width="4.80" height="62.54" fill="#bebebe"/>
<rect x="3810.90" y="284.20" width="21.00" height="4.70" fill="#bebebe"/>
<rect x="3810.90" y="407.50" width="21.00" height="4.70" fill="#bebebe"/>
<rect x="3819.00" y="284.20" width="4.80" height="58.40" fill="#bebebe"/>
<rect x="3819.00" y="353.80" width="4.80" height="58.40" fill="#bebebe"/>
<rect x="259.70" y="633.30" width="5.10" height="452.40" fill="#000"/>
<rect x="220.20" y="1080.90" width="2566.80" height="4.80" fill="#000"/>
<text class="lab" transform="translate(216.6 1108.3) scale(0.95 1)" text-anchor="end">0.0</text>
<rect x="241.20" y="1060.06" width="19.00" height="4.80" fill="#000"/>
<rect x="241.20" y="1039.22" width="19.00" height="4.80" fill="#000"/>
<rect x="241.20" y="1018.38" width="19.00" height="4.80" fill="#000"/>
<rect x="241.20" y="997.54" width="19.00" height="4.80" fill="#000"/>
<rect x="220.20" y="976.70" width="40.00" height="4.80" fill="#000"/>
<text class="lab" transform="translate(216.6 1004.1) scale(0.95 1)" text-anchor="end">1.0</text>
<rect x="241.20" y="955.86" width="19.00" height="4.80" fill="#000"/>
<rect x="241.20" y="935.02" width="19.00" height="4.80" fill="#000"/>
<rect x="241.20" y="914.18" width="19.00" height="4.80" fill="#000"/>
<rect x="241.20" y="893.34" width="19.00" height="4.80" fill="#000"/>
<rect x="220.20" y="872.50" width="40.00" height="4.80" fill="#000"/>
<text class="lab" transform="translate(216.6 899.9) scale(0.95 1)" text-anchor="end">2.0</text>
<rect x="241.20" y="851.66" width="19.00" height="4.80" fill="#000"/>
<rect x="241.20" y="830.82" width="19.00" height="4.80" fill="#000"/>
<rect x="241.20" y="809.98" width="19.00" height="4.80" fill="#000"/>
<rect x="241.20" y="789.14" width="19.00" height="4.80" fill="#000"/>
<rect x="220.20" y="768.30" width="40.00" height="4.80" fill="#000"/>
<text class="lab" transform="translate(216.6 795.7) scale(0.95 1)" text-anchor="end">3.0</text>
<rect x="241.20" y="747.46" width="19.00" height="4.80" fill="#000"/>
<rect x="241.20" y="726.62" width="19.00" height="4.80" fill="#000"/>
<rect x="241.20" y="705.78" width="19.00" height="4.80" fill="#000"/>
<rect x="241.20" y="684.94" width="19.00" height="4.80" fill="#000"/>
<rect x="220.20" y="664.10" width="40.00" height="4.80" fill="#000"/>
<text class="lab" transform="translate(216.6 691.5) scale(0.95 1)" text-anchor="end">4.0</text>
<rect x="241.20" y="643.26" width="19.00" height="4.80" fill="#000"/>
<rect x="309.00" y="1083.30" width="4.80" height="10.40" fill="#000"/>
<rect x="399.00" y="1083.30" width="4.80" height="10.40" fill="#000"/>
<rect x="489.00" y="1083.30" width="4.80" height="10.40" fill="#000"/>
<rect x="579.00" y="1083.30" width="4.80" height="10.40" fill="#000"/>
<rect x="668.90" y="1083.30" width="5.00" height="21.30" fill="#000"/>
<text class="lab" transform="translate(671.9 1171.5) scale(0.95 1)" text-anchor="middle">45</text>
<rect x="759.00" y="1083.30" width="4.80" height="10.40" fill="#000"/>
<rect x="849.00" y="1083.30" width="4.80" height="10.40" fill="#000"/>
<rect x="939.00" y="1083.30" width="4.80" height="10.40" fill="#000"/>
<rect x="1029.00" y="1083.30" width="4.80" height="10.40" fill="#000"/>
<rect x="1118.90" y="1083.30" width="5.00" height="21.30" fill="#000"/>
<text class="lab" transform="translate(1121.9 1171.5) scale(0.95 1)" text-anchor="middle">50</text>
<rect x="1209.00" y="1083.30" width="4.80" height="10.40" fill="#000"/>
<rect x="1299.00" y="1083.30" width="4.80" height="10.40" fill="#000"/>
<rect x="1389.00" y="1083.30" width="4.80" height="10.40" fill="#000"/>
<rect x="1479.00" y="1083.30" width="4.80" height="10.40" fill="#000"/>
<rect x="1568.90" y="1083.30" width="5.00" height="21.30" fill="#000"/>
<text class="lab" transform="translate(1571.9 1171.5) scale(0.95 1)" text-anchor="middle">55</text>
<rect x="1659.00" y="1083.30" width="4.80" height="10.40" fill="#000"/>
<rect x="1749.00" y="1083.30" width="4.80" height="10.40" fill="#000"/>
<rect x="1839.00" y="1083.30" width="4.80" height="10.40" fill="#000"/>
<rect x="1929.00" y="1083.30" width="4.80" height="10.40" fill="#000"/>
<rect x="2018.90" y="1083.30" width="5.00" height="21.30" fill="#000"/>
<text class="lab" transform="translate(2021.9 1171.5) scale(0.95 1)" text-anchor="middle">60</text>
<rect x="2109.00" y="1083.30" width="4.80" height="10.40" fill="#000"/>
<rect x="2199.00" y="1083.30" width="4.80" height="10.40" fill="#000"/>
<rect x="2289.00" y="1083.30" width="4.80" height="10.40" fill="#000"/>
<rect x="2379.00" y="1083.30" width="4.80" height="10.40" fill="#000"/>
<rect x="2468.90" y="1083.30" width="5.00" height="21.30" fill="#000"/>
<text class="lab" transform="translate(2471.9 1171.5) scale(0.95 1)" text-anchor="middle">65</text>
<rect x="2559.00" y="1083.30" width="4.80" height="10.40" fill="#000"/>
<rect x="2649.00" y="1083.30" width="4.80" height="10.40" fill="#000"/>
<rect x="2739.00" y="1083.30" width="4.80" height="10.40" fill="#000"/>
<text class="bits" transform="translate(99.6 858.9) rotate(-90)" text-anchor="middle">bits</text>
<text class="sb" fill="#0000ff" transform="matrix(0.7535 0 0 0.8183 284.81 970.40)">N</text>
<text class="sb" fill="#0000ff" transform="matrix(0.6979 0 0 0.2936 285.18 996.00)">R</text>
<text class="sb" fill="#000000" transform="matrix(0.6776 0 0 0.2076 287.07 1015.30)">C</text>
<text class="sb" fill="#008000" transform="matrix(0.7394 0 0 0.2048 287.72 1034.70)">S</text>
<text class="sb" fill="#0000ff" transform="matrix(0.6858 0 0 0.1642 285.26 1049.60)">K</text>
<text class="sb" fill="#0000ff" transform="matrix(0.7223 0 0 0.1250 285.02 1061.20)">D</text>
<text class="sb" fill="#0000ff" transform="matrix(3.0755 0 0 0.0218 269.28 1066.80)">I</text>
<text class="sb" fill="#000000" transform="matrix(0.8568 0 0 8.7792 361.17 1071.00)">W</text>
<text class="sb" fill="#000000" transform="matrix(5.6025 0 0 0.0145 323.77 1075.90)">I</text>
<text class="sb" fill="#008000" transform="matrix(1.3687 0 0 0.8037 446.91 986.62)">S</text>
<text class="sb" fill="#0000ff" transform="matrix(1.2918 0 0 0.3823 442.21 1018.20)">R</text>
<text class="sb" fill="#008000" transform="matrix(1.2222 0 0 0.3474 447.81 1046.90)">A</text>
<text class="sb" fill="#0000ff" transform="matrix(1.3948 0 0 0.1366 441.52 1060.40)">N</text>
<text class="sb" fill="#0000ff" transform="matrix(5.6927 0 0 0.0276 412.77 1066.20)">I</text>
<text class="sb" fill="#008000" transform="matrix(1.2222 0 0 0.0785 537.66 1036.50)">A</text>
<text class="sb" fill="#000000" transform="matrix(1.5979 0 0 0.0581 530.01 1044.50)">L</text>
<text class="sb" fill="#008000" transform="matrix(1.2152 0 0 0.0466 535.72 1050.95)">G</text>
<text class="sb" fill="#0000ff" transform="matrix(5.6927 0 0 0.0392 502.62 1058.50)">I</text>
<text class="sb" fill="#008000" transform="matrix(5.6927 0 0 0.0203 502.62 1063.20)">I</text>
<text class="mr" fill="#000000" clip-path="url(#ci)" transform="matrix(2.0231 0 0 2.5657 611.25 982.80)">I</text>
<text class="sb" fill="#000000" transform="matrix(1.5842 0 0 0.7994 620.60 1041.00)">L</text>
<text class="sb" fill="#000000" transform="matrix(1.2444 0 0 0.4186 630.35 1073.80)">V</text>
<text class="sb" fill="#000000" transform="matrix(5.6441 0 0 0.0203 593.44 1078.70)">I</text>
<text class="sb" fill="#008000" transform="matrix(1.2133 0 0 2.1338 717.98 991.40)">A</text>
<text class="sb" fill="#008000" transform="matrix(1.4384 0 0 0.7965 711.38 1051.00)">P</text>
<text class="sb" fill="#008000" transform="matrix(1.3587 0 0 0.2345 717.09 1070.87)">S</text>
<text class="sb" fill="#0000ff" transform="matrix(1.2694 0 0 0.3329 802.01 1003.50)">K</text>
<text class="sb" fill="#0000ff" transform="matrix(1.2918 0 0 0.1802 801.86 1020.40)">R</text>
<text class="sb" fill="#008000" transform="matrix(1.2222 0 0 0.1352 807.46 1034.30)">A</text>
<svg x="810.50" y="1038.30" width="82.00" height="6.70" overflow="hidden"><text class="db" fill="#0000ff" transform="matrix(1.0933 0 0 0.0822 -5.45 6.10)">Q</text></svg>
<text class="sb" fill="#008000" transform="matrix(1.2152 0 0 0.0763 805.52 1054.33)">G</text>
<text class="sb" fill="#008000" transform="matrix(5.6927 0 0 0.0262 772.42 1060.30)">I</text>
<text class="sb" fill="#0000ff" transform="matrix(5.6927 0 0 0.0465 772.42 1068.40)">I</text>
<text class="sb" fill="#008000" transform="matrix(5.6927 0 0 0.0276 772.42 1073.80)">I</text>
<text class="sb" fill="#0000ff" transform="matrix(1.2981 0 0 0.1294 892.02 1007.00)">R</text>
<text class="sb" fill="#0000ff" transform="matrix(1.2755 0 0 0.1061 892.17 1018.80)">K</text>
<text class="sb" fill="#000000" transform="matrix(1.6057 0 0 0.0988 889.96 1029.80)">L</text>
<text class="sb" fill="#008000" transform="matrix(1.4016 0 0 0.1047 891.32 1041.00)">H</text>
<text class="sb" fill="#0000ff" transform="matrix(1.4016 0 0 0.0669 891.32 1049.10)">N</text>
<svg x="900.70" y="1052.60" width="82.40" height="3.70" overflow="hidden"><text class="db" fill="#0000ff" transform="matrix(1.0987 0 0 0.0454 -5.47 3.37)">Q</text></svg>
<text class="sb" fill="#000000" transform="matrix(5.7205 0 0 0.0174 862.43 1060.40)">I</text>
<text class="sb" fill="#000000" transform="matrix(1.5842 0 0 0.9361 980.55 998.10)">L</text>
<text class="sb" fill="#008000" transform="matrix(1.2118 0 0 0.5029 988.13 1036.20)">A</text>
<text class="mr" fill="#000000" clip-path="url(#ci)" transform="matrix(2.0231 0 0 0.1215 971.20 1047.70)">I</text>
<text class="sb" fill="#000000" transform="matrix(1.5842 0 0 0.0887 980.55 1057.90)">L</text>
<text class="sb" fill="#000000" transform="matrix(1.2444 0 0 0.0581 990.30 1066.50)">V</text>
<text class="sb" fill="#008000" transform="matrix(5.6441 0 0 0.0276 953.39 1072.90)">I</text>
<text class="sb" fill="#008000" transform="matrix(1.4490 0 0 1.5364 1071.31 966.00)">P</text>
<text class="sb" fill="#008000" transform="matrix(1.2152 0 0 1.0692 1076.02 1045.96)">G</text>
<text class="sb" fill="#000000" transform="matrix(1.2551 0 0 0.0291 1080.14 1053.00)">V</text>
<text class="sb" fill="#0000ff" transform="matrix(5.6927 0 0 0.0203 1042.92 1057.80)">I</text>
<text class="sb" fill="#0000ff" transform="matrix(5.6927 0 0 0.0203 1042.92 1062.70)">I</text>
<text class="sb" fill="#0000ff" transform="matrix(5.6927 0 0 0.0203 1042.92 1067.20)">I</text>
<text class="sb" fill="#0000ff" transform="matrix(0.1041 0 0 2.4695 1209.95 1078.60)">I</text>
<text class="sb" fill="#008000" transform="matrix(0.1041 0 0 2.4797 1299.85 1078.60)">I</text>
<text class="sb" fill="#000000" transform="matrix(0.6177 0 0 3.6352 1372.02 1053.90)">L</text>
<text class="sb" fill="#008000" transform="matrix(0.5383 0 0 0.0698 1375.55 1062.50)">T</text>
<text class="sb" fill="#000000" transform="matrix(2.2007 0 0 0.0291 1361.43 1069.70)">I</text>
<text class="sb" fill="#000000" transform="matrix(0.4852 0 0 0.0320 1375.82 1075.40)">V</text>
<text class="sb" fill="#008000" transform="matrix(1.2122 0 0 1.1441 1436.23 1004.18)">G</text>
<text class="sb" fill="#0000ff" transform="matrix(1.2663 0 0 0.1875 1432.73 1021.70)">K</text>
<svg x="1441.20" y="1025.70" width="81.80" height="11.80" overflow="hidden"><text class="db" fill="#0000ff" transform="matrix(1.0907 0 0 0.1447 -5.43 10.74)">Q</text></svg>
<text class="sb" fill="#000000" transform="matrix(1.5940 0 0 0.1410 1430.54 1049.90)">L</text>
<text class="sb" fill="#0000ff" transform="matrix(1.3914 0 0 0.0698 1431.89 1059.30)">N</text>
<text class="sb" fill="#0000ff" transform="matrix(5.6789 0 0 0.0203 1403.21 1064.00)">I</text>
<text class="sb" fill="#0000ff" transform="matrix(1.2918 0 0 5.2108 1522.36 1059.30)">R</text>
<text class="sb" fill="#0000ff" transform="matrix(1.2694 0 0 0.2035 1522.51 1077.80)">K</text>
<text class="sb" fill="#008000" transform="matrix(1.3755 0 0 2.2486 1619.46 950.80)">T</text>
<text class="sb" fill="#000000" transform="matrix(1.2389 0 0 1.0607 1615.92 1028.96)">C</text>
<text class="sb" fill="#008000" transform="matrix(1.3520 0 0 0.3870 1617.11 1061.52)">S</text>
<text class="sb" fill="#000000" transform="matrix(5.6233 0 0 0.0145 1583.38 1068.00)">I</text>
<text class="sb" fill="#0000ff" transform="matrix(1.3371 0 0 1.3896 1701.86 953.00)">D</text>
<text class="sb" fill="#008000" transform="matrix(1.2152 0 0 1.3037 1705.82 1048.83)">G</text>
<text class="sb" fill="#008000" transform="matrix(1.4490 0 0 0.0785 1701.11 1059.00)">P</text>
<text class="sb" fill="#0000ff" transform="matrix(5.6927 0 0 0.0203 1672.72 1063.00)">I</text>
<text class="sb" fill="#0000ff" transform="matrix(1.2694 0 0 1.7006 1792.51 933.00)">K</text>
<text class="sb" fill="#0000ff" transform="matrix(1.3948 0 0 1.6977 1791.67 1053.40)">N</text>
<text class="sb" fill="#008000" transform="matrix(1.3925 0 0 0.0422 1799.44 1059.70)">T</text>
<text class="sb" fill="#000000" transform="matrix(5.6927 0 0 0.0203 1762.92 1064.80)">I</text>
<text class="sb" fill="#008000" transform="matrix(1.3687 0 0 1.0791 1886.56 968.35)">S</text>
<text class="sb" fill="#0000ff" transform="matrix(1.4616 0 0 0.7645 1880.72 1026.90)">E</text>
<svg x="1890.50" y="1032.20" width="82.00" height="14.10" overflow="hidden"><text class="db" fill="#0000ff" transform="matrix(1.0933 0 0 0.1729 -5.45 12.83)">Q</text></svg>
<text class="sb" fill="#008000" transform="matrix(1.2222 0 0 0.1686 1887.46 1062.30)">A</text>
<text class="sb" fill="#0000ff" transform="matrix(1.3371 0 0 0.1395 1881.56 1075.30)">D</text>
<text class="sb" fill="#000000" transform="matrix(1.2450 0 0 2.4576 1976.29 900.90)">C</text>
<text class="mr" fill="#000000" clip-path="url(#ci)" transform="matrix(2.0256 0 0 1.8886 1961.42 1031.50)">I</text>
<text class="sb" fill="#000000" transform="matrix(1.2459 0 0 0.5581 1980.55 1074.20)">V</text>
<text class="sb" fill="#000000" transform="matrix(3.8877 0 0 0.0145 1980.09 1078.50)">I</text>
<text class="sb" fill="#0000ff" transform="matrix(1.2601 0 0 1.6875 2062.57 940.00)">K</text>
<text class="sb" fill="#0000ff" transform="matrix(1.2824 0 0 1.6526 2062.42 1058.60)">R</text>
<text class="sb" fill="#000000" transform="matrix(1.5862 0 0 0.0552 2060.39 1065.70)">L</text>
<text class="sb" fill="#008000" transform="matrix(1.2133 0 0 0.0392 2067.98 1072.00)">A</text>
<text class="sb" fill="#0000ff" transform="matrix(1.3778 0 0 1.3823 2151.88 957.10)">N</text>
<text class="sb" fill="#000000" transform="matrix(1.5784 0 0 1.2311 2150.54 1045.80)">L</text>
<text class="sb" fill="#0000ff" transform="matrix(1.4438 0 0 0.1047 2151.44 1057.90)">E</text>
<text class="sb" fill="#0000ff" transform="matrix(5.6233 0 0 0.0203 2123.48 1063.00)">I</text>
<text class="sb" fill="#008000" transform="matrix(1.5784 0 0 0.0233 2150.54 1068.00)">L</text>
<text class="sb" fill="#0000ff" transform="matrix(1.2808 0 0 1.8620 2242.48 944.90)">R</text>
<text class="sb" fill="#000000" transform="matrix(1.2828 0 0 0.8416 2248.86 1006.80)">Y</text>
<text class="sb" fill="#008000" transform="matrix(1.3829 0 0 0.5770 2241.80 1050.70)">H</text>
<text class="sb" fill="#000000" transform="matrix(1.6025 0 0 0.1846 2240.33 1068.60)">F</text>
<text class="sb" fill="#000000" transform="matrix(0.8600 0 0 7.5728 2340.92 1036.70)">W</text>
<text class="sb" fill="#000000" transform="matrix(1.2780 0 0 0.2369 2338.82 1057.00)">Y</text>
<text class="sb" fill="#008000" transform="matrix(1.2073 0 0 0.1235 2337.99 1069.30)">A</text>
<text class="sb" fill="#000000" transform="matrix(1.5966 0 0 0.0814 2330.32 1078.60)">F</text>
<text class="sb" fill="#0000ff" transform="matrix(1.3778 0 0 0.4971 2421.88 1004.00)">N</text>
<text class="sb" fill="#008000" transform="matrix(1.3778 0 0 0.0872 2421.88 1014.00)">H</text>
<text class="sb" fill="#000000" transform="matrix(1.5784 0 0 0.0814 2420.54 1023.60)">L</text>
<text class="sb" fill="#008000" transform="matrix(1.3755 0 0 0.0756 2429.56 1033.00)">T</text>
<text class="mr" fill="#000000" clip-path="url(#ci)" transform="matrix(2.0157 0 0 0.0516 2411.22 1041.40)">I</text>
<text class="sb" fill="#0000ff" transform="matrix(5.6233 0 0 0.0203 2393.48 1047.00)">I</text>
<text class="sb" fill="#0000ff" transform="matrix(5.6233 0 0 0.0203 2393.48 1052.10)">I</text>
<text class="sb" fill="#000000" transform="matrix(1.2398 0 0 0.0247 2430.25 1058.00)">V</text>
<text class="sb" fill="#0000ff" transform="matrix(1.2928 0 0 1.5901 2515.45 958.20)">N</text>
<text class="sb" fill="#008000" transform="matrix(1.2906 0 0 0.9840 2522.65 1030.00)">T</text>
<text class="sb" fill="#008000" transform="matrix(1.2685 0 0 0.2585 2520.45 1052.05)">S</text>
<text class="sb" fill="#0000ff" transform="matrix(1.1765 0 0 0.1192 2516.23 1065.20)">K</text>
<text class="sb" fill="#000000" transform="matrix(1.1633 0 0 0.0436 2523.30 1072.00)">V</text>
<text class="sb" fill="#000000" transform="matrix(0.9846 0 0 2.0189 2618.92 931.60)">Y</text>
<text class="sb" fill="#008000" transform="matrix(1.0614 0 0 1.1018 2613.50 1012.20)">H</text>
<svg x="2620.60" y="1017.30" width="62.40" height="17.80" overflow="hidden"><text class="db" fill="#0000ff" transform="matrix(0.8320 0 0 0.2183 -4.14 16.20)">Q</text></svg>
<text class="sb" fill="#008000" transform="matrix(1.0597 0 0 0.1875 2619.41 1051.90)">T</text>
<text class="sb" fill="#000000" transform="matrix(0.9551 0 0 0.0392 2619.95 1058.60)">V</text>
<text class="sb" fill="#000000" transform="matrix(4.3320 0 0 0.0203 2591.62 1063.70)">I</text>
<text class="sb" fill="#000000" transform="matrix(4.3320 0 0 0.0203 2591.62 1069.30)">I</text>
<text class="sb" fill="#000000" transform="matrix(0.8476 0 0 4.6948 2714.38 1076.20)">L</text>
<rect x="301.50" y="884.80" width="21.00" height="4.70" fill="#bebebe"/>
<rect x="301.50" y="938.30" width="21.00" height="4.70" fill="#bebebe"/>
<rect x="309.60" y="884.80" width="4.80" height="26.99" fill="#bebebe"/>
<rect x="309.60" y="916.01" width="4.80" height="26.99" fill="#bebebe"/>
<rect x="399.20" y="468.00" width="4.80" height="168.00" fill="#bebebe"/>
<rect x="391.10" y="483.60" width="21.00" height="4.70" fill="#bebebe"/>
<rect x="391.10" y="631.30" width="21.00" height="4.70" fill="#bebebe"/>
<rect x="481.35" y="909.00" width="21.00" height="4.70" fill="#bebebe"/>
<rect x="481.35" y="948.30" width="21.00" height="4.70" fill="#bebebe"/>
<rect x="489.45" y="909.00" width="4.80" height="20.60" fill="#bebebe"/>
<rect x="489.45" y="932.40" width="4.80" height="20.60" fill="#bebebe"/>
<rect x="571.20" y="1012.00" width="21.00" height="4.70" fill="#bebebe"/>
<rect x="571.20" y="1044.90" width="21.00" height="4.70" fill="#bebebe"/>
<rect x="579.30" y="1012.00" width="4.80" height="17.72" fill="#bebebe"/>
<rect x="579.30" y="1031.88" width="4.80" height="17.72" fill="#bebebe"/>
<rect x="661.35" y="792.30" width="21.00" height="4.70" fill="#bebebe"/>
<rect x="661.35" y="829.10" width="21.00" height="4.70" fill="#bebebe"/>
<rect x="669.45" y="792.30" width="4.80" height="19.48" fill="#bebebe"/>
<rect x="669.45" y="814.32" width="4.80" height="19.48" fill="#bebebe"/>
<rect x="751.20" y="822.30" width="21.00" height="4.70" fill="#bebebe"/>
<rect x="751.20" y="861.80" width="21.00" height="4.70" fill="#bebebe"/>
<rect x="759.30" y="822.30" width="4.80" height="20.69" fill="#bebebe"/>
<rect x="759.30" y="845.81" width="4.80" height="20.69" fill="#bebebe"/>
<rect x="841.00" y="962.40" width="21.00" height="4.70" fill="#bebebe"/>
<rect x="841.00" y="993.30" width="21.00" height="4.70" fill="#bebebe"/>
<rect x="849.10" y="962.40" width="4.80" height="16.80" fill="#bebebe"/>
<rect x="849.10" y="981.20" width="4.80" height="16.80" fill="#bebebe"/>
<rect x="931.40" y="979.30" width="21.00" height="4.70" fill="#bebebe"/>
<rect x="931.40" y="1011.60" width="21.00" height="4.70" fill="#bebebe"/>
<rect x="939.50" y="979.30" width="4.80" height="17.45" fill="#bebebe"/>
<rect x="939.50" y="998.85" width="4.80" height="17.45" fill="#bebebe"/>
<rect x="1021.30" y="910.00" width="21.00" height="4.70" fill="#bebebe"/>
<rect x="1021.30" y="951.30" width="21.00" height="4.70" fill="#bebebe"/>
<rect x="1029.40" y="910.00" width="4.80" height="21.50" fill="#bebebe"/>
<rect x="1029.40" y="934.50" width="4.80" height="21.50" fill="#bebebe"/>
<rect x="1111.50" y="834.50" width="21.00" height="4.70" fill="#bebebe"/>
<rect x="1111.50" y="880.90" width="21.00" height="4.70" fill="#bebebe"/>
<rect x="1119.60" y="834.50" width="4.80" height="23.79" fill="#bebebe"/>
<rect x="1119.60" y="861.80" width="4.80" height="23.80" fill="#bebebe"/>
<rect x="1200.90" y="812.20" width="21.00" height="4.70" fill="#bebebe"/>
<rect x="1200.90" y="1001.60" width="21.00" height="4.70" fill="#bebebe"/>
<rect x="1209.00" y="812.20" width="4.80" height="88.14" fill="#bebebe"/>
<rect x="1209.00" y="918.15" width="4.80" height="88.14" fill="#bebebe"/>
<rect x="1290.80" y="817.20" width="21.00" height="4.70" fill="#bebebe"/>
<rect x="1290.80" y="995.10" width="21.00" height="4.70" fill="#bebebe"/>
<rect x="1298.90" y="817.20" width="4.80" height="82.97" fill="#bebebe"/>
<rect x="1298.90" y="916.83" width="4.80" height="82.97" fill="#bebebe"/>
<rect x="1380.80" y="763.40" width="21.00" height="4.70" fill="#bebebe"/>
<rect x="1380.80" y="840.20" width="21.00" height="4.70" fill="#bebebe"/>
<rect x="1388.90" y="763.40" width="4.80" height="37.48" fill="#bebebe"/>
<rect x="1388.90" y="807.42" width="4.80" height="37.48" fill="#bebebe"/>
<rect x="1471.60" y="896.90" width="21.00" height="4.70" fill="#bebebe"/>
<rect x="1471.60" y="945.90" width="21.00" height="4.70" fill="#bebebe"/>
<rect x="1479.70" y="896.90" width="4.80" height="24.97" fill="#bebebe"/>
<rect x="1479.70" y="925.63" width="4.80" height="24.97" fill="#bebebe"/>
<rect x="1561.50" y="680.20" width="21.00" height="4.70" fill="#bebebe"/>
<rect x="1561.50" y="718.30" width="21.00" height="4.70" fill="#bebebe"/>
<rect x="1569.60" y="680.20" width="4.80" height="20.06" fill="#bebebe"/>
<rect x="1569.60" y="702.94" width="4.80" height="20.06" fill="#bebebe"/>
<rect x="1651.00" y="770.10" width="21.00" height="4.70" fill="#bebebe"/>
<rect x="1651.00" y="816.80" width="21.00" height="4.70" fill="#bebebe"/>
<rect x="1659.10" y="770.10" width="4.80" height="23.93" fill="#bebebe"/>
<rect x="1659.10" y="797.57" width="4.80" height="23.93" fill="#bebebe"/>
<rect x="1741.30" y="834.10" width="21.00" height="4.70" fill="#bebebe"/>
<rect x="1741.30" y="877.80" width="21.00" height="4.70" fill="#bebebe"/>
<rect x="1749.40" y="834.10" width="4.80" height="22.58" fill="#bebebe"/>
<rect x="1749.40" y="859.92" width="4.80" height="22.58" fill="#bebebe"/>
<rect x="1831.50" y="792.20" width="21.00" height="4.70" fill="#bebebe"/>
<rect x="1831.50" y="835.60" width="21.00" height="4.70" fill="#bebebe"/>
<rect x="1839.60" y="792.20" width="4.80" height="22.44" fill="#bebebe"/>
<rect x="1839.60" y="817.86" width="4.80" height="22.44" fill="#bebebe"/>
<rect x="1921.00" y="872.30" width="21.00" height="4.70" fill="#bebebe"/>
<rect x="1921.00" y="909.20" width="21.00" height="4.70" fill="#bebebe"/>
<rect x="1929.10" y="872.30" width="4.80" height="19.52" fill="#bebebe"/>
<rect x="1929.10" y="894.38" width="4.80" height="19.52" fill="#bebebe"/>
<rect x="2011.60" y="707.60" width="21.00" height="4.70" fill="#bebebe"/>
<rect x="2011.60" y="746.00" width="21.00" height="4.70" fill="#bebebe"/>
<rect x="2019.70" y="707.60" width="4.80" height="20.20" fill="#bebebe"/>
<rect x="2019.70" y="730.51" width="4.80" height="20.19" fill="#bebebe"/>
<rect x="2101.20" y="802.40" width="21.00" height="4.70" fill="#bebebe"/>
<rect x="2101.20" y="841.40" width="21.00" height="4.70" fill="#bebebe"/>
<rect x="2109.30" y="802.40" width="4.80" height="20.47" fill="#bebebe"/>
<rect x="2109.30" y="825.63" width="4.80" height="20.47" fill="#bebebe"/>
<rect x="2191.10" y="837.20" width="21.00" height="4.70" fill="#bebebe"/>
<rect x="2191.10" y="883.30" width="21.00" height="4.70" fill="#bebebe"/>
<rect x="2199.20" y="837.20" width="4.80" height="23.66" fill="#bebebe"/>
<rect x="2199.20" y="864.34" width="4.80" height="23.66" fill="#bebebe"/>
<rect x="2281.20" y="794.10" width="21.00" height="4.70" fill="#bebebe"/>
<rect x="2281.20" y="836.20" width="21.00" height="4.70" fill="#bebebe"/>
<rect x="2289.30" y="794.10" width="4.80" height="21.86" fill="#bebebe"/>
<rect x="2289.30" y="819.04" width="4.80" height="21.86" fill="#bebebe"/>
<rect x="2379.10" y="517.60" width="4.80" height="118.90" fill="#bebebe"/>
<rect x="2371.00" y="537.30" width="21.00" height="4.70" fill="#bebebe"/>
<rect x="2371.00" y="631.60" width="21.00" height="4.70" fill="#bebebe"/>
<rect x="2461.10" y="947.50" width="21.00" height="4.70" fill="#bebebe"/>
<rect x="2461.10" y="988.10" width="21.00" height="4.70" fill="#bebebe"/>
<rect x="2469.20" y="947.50" width="4.80" height="21.18" fill="#bebebe"/>
<rect x="2469.20" y="971.62" width="4.80" height="21.18" fill="#bebebe"/>
<rect x="2551.60" y="826.10" width="21.00" height="4.70" fill="#bebebe"/>
<rect x="2551.60" y="867.60" width="21.00" height="4.70" fill="#bebebe"/>
<rect x="2559.70" y="826.10" width="4.80" height="21.59" fill="#bebebe"/>
<rect x="2559.70" y="850.71" width="4.80" height="21.59" fill="#bebebe"/>
<rect x="2641.30" y="765.40" width="21.00" height="4.70" fill="#bebebe"/>
<rect x="2641.30" y="816.80" width="21.00" height="4.70" fill="#bebebe"/>
<rect x="2649.40" y="765.40" width="4.80" height="26.05" fill="#bebebe"/>
<rect x="2649.40" y="795.46" width="4.80" height="26.04" fill="#bebebe"/>
<rect x="2731.30" y="724.80" width="21.00" height="4.70" fill="#bebebe"/>
<rect x="2731.30" y="775.20" width="21.00" height="4.70" fill="#bebebe"/>
<rect x="2739.40" y="724.80" width="4.80" height="25.59" fill="#bebebe"/>
<rect x="2739.40" y="754.30" width="4.80" height="25.60" fill="#bebebe"/>
<text class="foot" transform="translate(3866.5 1233.3) scale(0.978 1)" text-anchor="end">WebLogo 3.4</text>
</svg></body></html>
